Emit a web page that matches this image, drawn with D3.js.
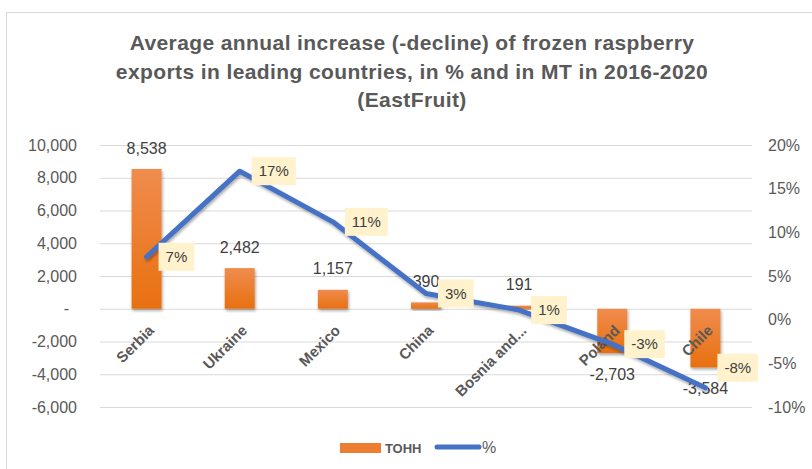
<!DOCTYPE html>
<html>
<head>
<meta charset="utf-8">
<script src="https://cdn.jsdelivr.net/npm/d3@7"></script>
<style>
  body { margin: 0; background: #fff; }
  svg { display: block; font-family: "Liberation Sans", Arial, sans-serif; }
</style>
</head>
<body>
<div id="chart"></div>
<script>
// chart data
var countries = ["Serbia", "Ukraine", "Mexico", "China", "Bosnia and...", "Poland", "Chile"];
var tonnes = [8538, 2482, 1157, 390, 191, -2703, -3584];
var percents = [7.2, 17.0, 11.2, 3.0, 1.1, -2.8, -7.8];
var pctLabels = ["7%", "17%", "11%", "3%", "1%", "-3%", "-8%"];
var leftTicks = [-6000, -4000, -2000, 0, 2000, 4000, 6000, 8000, 10000];
var rightTicks = [-0.10, -0.05, 0, 0.05, 0.10, 0.15, 0.20];
var titleLines = ["Average annual increase (-decline) of frozen raspberry",
                  "exports in leading countries, in % and in MT in 2016-2020",
                  "(EastFruit)"];

var width = 812, height = 469;
var plot = { left: 100, right: 752, top: 145, bottom: 407 };
var grey = "#595959", dark = "#404040";

// plain hyphen for negatives, like Excel
var loc = d3.formatLocale({ decimal: ".", thousands: ",", grouping: [3], currency: ["", ""], minus: "-" });
var fmt = loc.format(",");
var pfmt = loc.format(".0%");

var svg = d3.select("#chart").append("svg")
  .attr("width", width).attr("height", height);

var defs = svg.append("defs");
var grad = defs.append("linearGradient").attr("id", "barGrad")
  .attr("x1", 0).attr("y1", 0).attr("x2", 0).attr("y2", 1);
grad.append("stop").attr("offset", "0%").attr("stop-color", "#F08C4E");
grad.append("stop").attr("offset", "100%").attr("stop-color", "#E8700F");

var shadow = defs.append("filter").attr("id", "shadow")
  .attr("x", "-20%").attr("y", "-20%").attr("width", "140%").attr("height", "140%");
shadow.append("feDropShadow").attr("dx", 1).attr("dy", 2)
  .attr("stdDeviation", 1.5).attr("flood-color", "#000").attr("flood-opacity", 0.35);

// outer chart frame
svg.append("rect")
  .attr("x", 6.5).attr("y", 12.5).attr("width", 840).attr("height", 480)
  .attr("fill", "#fff").attr("stroke", "#D9D9D9");

// title
svg.append("g").selectAll("text")
  .data(titleLines)
  .enter().append("text")
    .attr("x", 412)
    .attr("y", function (d, i) { return 50 + i * 28.5; })
    .attr("text-anchor", "middle")
    .style("font-size", "21px")
    .style("font-weight", "bold")
    .style("letter-spacing", "0.4px")
    .style("fill", grey)
    .text(function (d) { return d; });

var x = d3.scaleBand().domain(countries).range([plot.left, plot.right]);
var yL = d3.scaleLinear().domain([-6000, 10000]).range([plot.bottom, plot.top]);
var yR = d3.scaleLinear().domain([-0.10, 0.20]).range([plot.bottom, plot.top]);

// gridlines + left axis
var leftAxis = svg.append("g")
  .attr("transform", "translate(" + plot.left + ",0)")
  .call(d3.axisLeft(yL).tickValues(leftTicks)
    .tickSize(-(plot.right - plot.left)).tickPadding(23)
    .tickFormat(function (d) { return d === 0 ? "-" : fmt(d); }));
leftAxis.select(".domain").remove();
leftAxis.selectAll("line").attr("stroke", "#D9D9D9");
leftAxis.selectAll("text")
  .style("font-size", "16px").style("fill", grey).style("font-family", "Liberation Sans, Arial, sans-serif")
  .filter(function (d) { return d === 0; }).attr("dx", -8);

// right axis, labels only
var rightAxis = svg.append("g")
  .attr("transform", "translate(" + plot.right + ",0)")
  .call(d3.axisRight(yR).tickValues(rightTicks).tickSize(0).tickPadding(16)
    .tickFormat(pfmt));
rightAxis.select(".domain").remove();
rightAxis.selectAll("text")
  .style("font-size", "16px").style("fill", grey).style("font-family", "Liberation Sans, Arial, sans-serif");

// bars
var barW = 30;
var cx = function (i) { return x(countries[i]) + x.bandwidth() / 2; };
svg.append("g").selectAll("rect")
  .data(tonnes)
  .enter().append("rect")
    .attr("x", function (d, i) { return cx(i) - barW / 2; })
    .attr("y", function (d) { return yL(Math.max(0, d)); })
    .attr("width", barW)
    .attr("height", function (d) { return Math.abs(yL(d) - yL(0)); })
    .attr("fill", "url(#barGrad)")
    .attr("filter", "url(#shadow)");

// category labels, rotated
svg.append("g").selectAll("text")
  .data(countries)
  .enter().append("text")
    .attr("transform", function (d, i) {
      return "translate(" + (cx(i) + 1) + "," + 324 + ") rotate(-45)";
    })
    .attr("text-anchor", "end")
    .attr("dy", "0.7em")
    .style("font-size", "15px")
    .style("font-weight", "bold")
    .style("fill", grey)
    .text(function (d) { return d; });

// bar value labels
svg.append("g").selectAll("text")
  .data(tonnes)
  .enter().append("text")
    .attr("x", function (d, i) { return cx(i); })
    .attr("y", function (d) { return d >= 0 ? yL(d) - 21 : yL(d) + 21; })
    .attr("dy", "0.35em")
    .attr("text-anchor", "middle")
    .style("font-size", "16px")
    .style("fill", dark)
    .text(function (d) { return fmt(d); });

// percent line
var line = d3.line()
  .x(function (d, i) { return cx(i); })
  .y(function (d) { return yR(d / 100); });
svg.append("path")
  .datum(percents)
  .attr("d", line)
  .attr("fill", "none")
  .attr("stroke", "#4472C4")
  .attr("stroke-width", 5)
  .attr("stroke-linejoin", "round")
  .attr("stroke-linecap", "round")
  .attr("filter", "url(#shadow)");

// percent labels in yellow boxes
var pl = svg.append("g").selectAll("g")
  .data(percents)
  .enter().append("g")
    .attr("transform", function (d, i) {
      var yy = yR(d / 100);
      if (i === percents.length - 1) yy -= 20; // excel nudged the last one up
      return "translate(" + (cx(i) + 12) + "," + yy + ")";
    });
pl.append("rect").attr("class", "box");
pl.append("text")
  .attr("x", 7)
  .attr("dy", "0.35em")
  .style("font-size", "15px")
  .style("fill", dark)
  .text(function (d, i) { return pctLabels[i]; });
pl.each(function () {
  var g = d3.select(this);
  var w = g.select("text").node().getComputedTextLength();
  g.select("rect").attr("x", 0).attr("y", -14).attr("width", w + 14).attr("height", 28)
    .attr("fill", "#FFF2CC");
});

// legend
var lg = svg.append("g");
lg.append("rect").attr("x", 340).attr("y", 443).attr("width", 41).attr("height", 10)
  .attr("fill", "#ED7D31");
lg.append("text").attr("x", 385).attr("y", 448).attr("dy", "0.35em")
  .style("font-size", "13px").style("font-weight", "bold").style("fill", grey).text("ТОНН");
lg.append("line").attr("x1", 437).attr("x2", 479).attr("y1", 447).attr("y2", 447)
  .attr("stroke", "#4472C4").attr("stroke-width", 5).attr("stroke-linecap", "round");
lg.append("text").attr("x", 482).attr("y", 447).attr("dy", "0.35em")
  .style("font-size", "16px").style("fill", grey).text("%");
</script>
</body>
</html>
